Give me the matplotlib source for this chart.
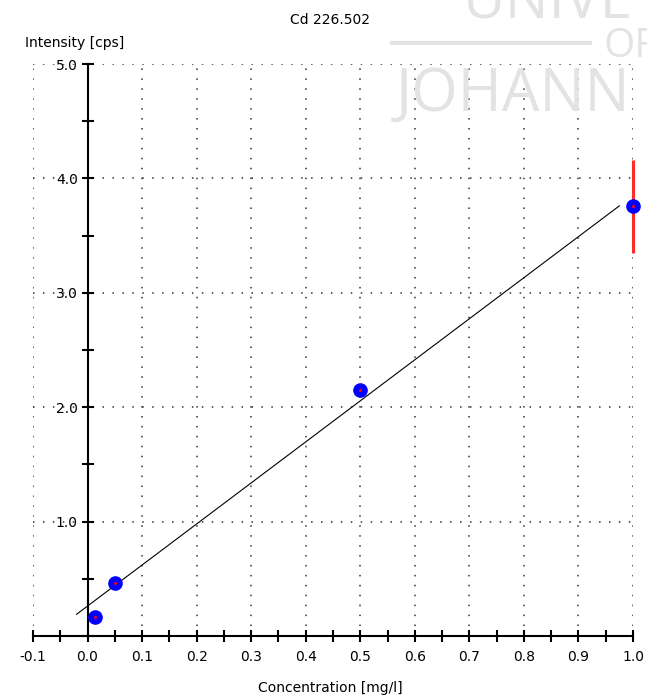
import numpy as np
import matplotlib
matplotlib.use("Agg")
import matplotlib.pyplot as plt
from matplotlib.ticker import MultipleLocator, FixedLocator

# calibration standards, Cd 226.502
conc = [0.013, 0.051, 0.5, 1.0]           # mg/l
intensity = [0.17, 0.46, 2.15, 3.76]      # cps
err_x = [1.0]
err_lo = [3.35]
err_hi = [4.16]

# fitted calibration line (end points)
fit_x = [-0.02, 0.975]
fit_y = [0.19, 3.76]

x_labels = ["-0.1", "0.0", "0.1", "0.2", "0.3", "0.4", "0.5", "0.6", "0.7", "0.8", "0.9", "1.0"]
y_labels = ["1.0", "2.0", "3.0", "4.0", "5.0"]

W, H = 647, 698
fig = plt.figure(figsize=(W / 100, H / 100), dpi=100)
fig.patch.set_facecolor("white")

# faint watermark behind the plot (cut off at the right edge, as in the source)
wm = dict(color="#e3e3e3", family="Open Sans", zorder=0, va="baseline", ha="left")
fig.text(463 / W, 1 - 17 / H, "UNIVE", fontsize=42, **wm)
fig.text(603 / W, 1 - 57 / H, "OF", fontsize=29, **wm)
fig.text(396 / W, 1 - 111 / H, "JOHANN", fontsize=43, **wm)
fig.add_artist(plt.Line2D([392 / W, 590 / W], [1 - 43 / H, 1 - 43 / H],
                          transform=fig.transFigure, color="#e3e3e3", lw=3, zorder=0))

ax = fig.add_axes([33 / W, 1 - 636 / H, 600 / W, 572 / H])
ax.patch.set_alpha(0)
ax.set_xlim(-0.1, 1.0)
ax.set_ylim(0, 5.0)

# dotted grid
dot = dict(color="#333333", lw=1.1, linestyle=(0, (1, 5.5)), zorder=1)
for v in np.arange(-0.1, 1.001, 0.1):
    if abs(v) > 1e-9:
        ax.axvline(v, **dot)
for v in range(1, 6):
    ax.axhline(v, **dot)

# axes through the origin
for s in ["top", "right"]:
    ax.spines[s].set_visible(False)
ax.spines["left"].set_position(("data", 0))
ax.spines["left"].set_linewidth(1.5)
ax.spines["bottom"].set_linewidth(1.5)

ax.xaxis.set_major_locator(FixedLocator(np.round(np.arange(-0.1, 1.001, 0.1), 2)))
ax.xaxis.set_minor_locator(MultipleLocator(0.05))
ax.set_xticklabels(x_labels)
ax.yaxis.set_major_locator(FixedLocator([1, 2, 3, 4, 5]))
ax.yaxis.set_minor_locator(MultipleLocator(0.5))
ax.set_yticklabels(y_labels)
ax.tick_params(which="both", direction="inout", length=8, width=1.5, color="black")
ax.tick_params(axis="x", which="major", pad=6, labelsize=10)
ax.tick_params(axis="y", which="major", pad=3, labelsize=10)

# calibration line, points and error bar
ax.plot(fit_x, fit_y, color="black", lw=0.8, zorder=3)
ax.vlines(err_x, err_lo, err_hi, color="#ff2a2a", lw=2.2, zorder=4, clip_on=False)
ax.plot(conc, intensity, "o", color="#0000ff", markersize=9.5, zorder=5, clip_on=False)
ax.plot(conc, intensity, "s", color="#ff0000", markersize=1, zorder=6, clip_on=False)

fig.text(330 / W, 1 - 20 / H, "Cd 226.502", ha="center", va="center", fontsize=10)
fig.text(25 / W, 1 - 43 / H, "Intensity [cps]", ha="left", va="center", fontsize=10)
fig.text(330 / W, 1 - 688 / H, "Concentration [mg/l]", ha="center", va="center", fontsize=10)

fig.savefig("out.png", dpi=100)
